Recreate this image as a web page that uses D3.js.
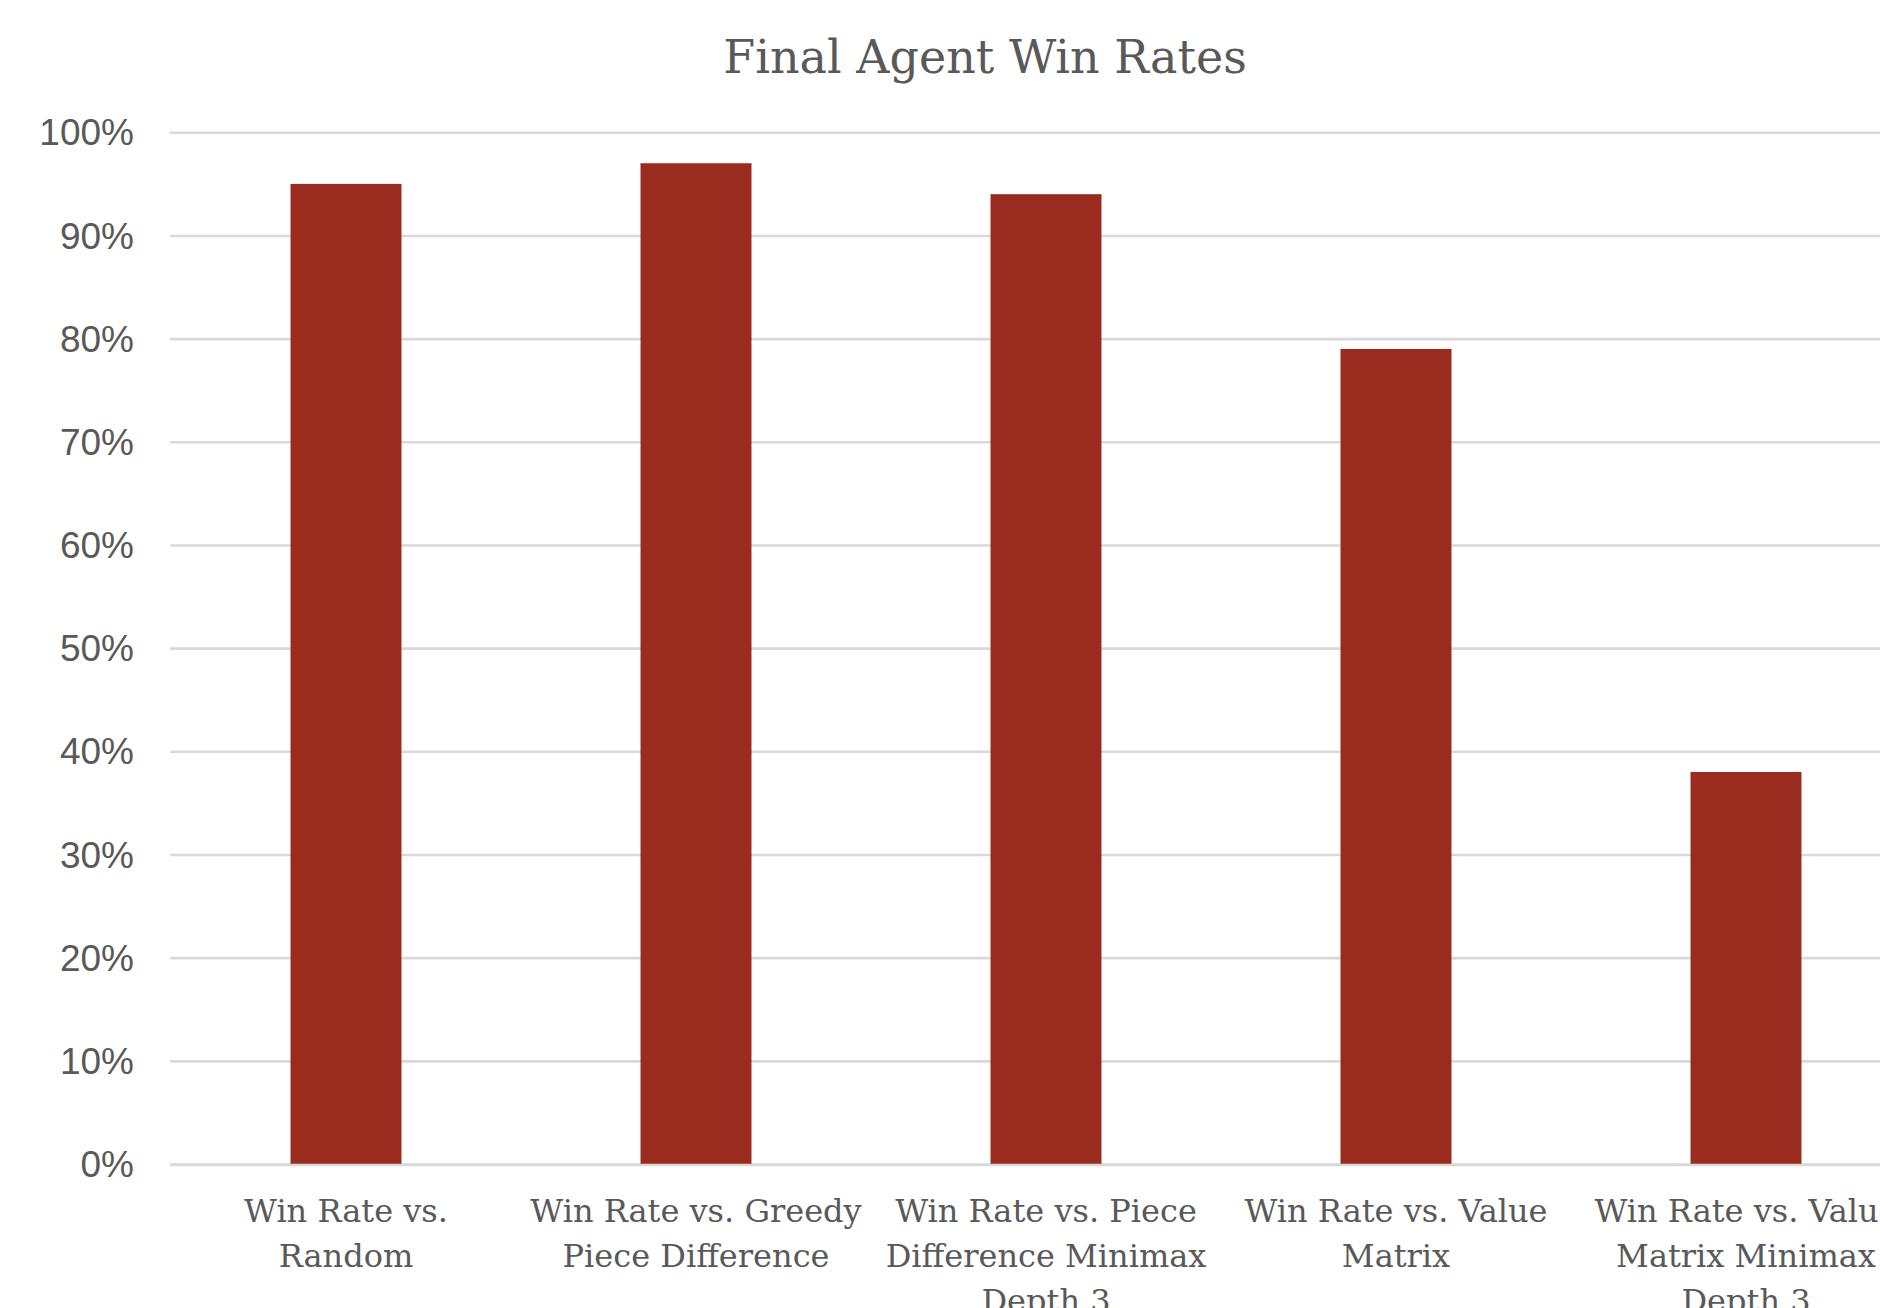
<!DOCTYPE html>
<html>
<head>
<meta charset="utf-8">
<script src="https://cdn.jsdelivr.net/npm/d3@7"></script>
<style>
  html, body { margin: 0; padding: 0; background: #ffffff; overflow: hidden; }
  svg { display: block; }
</style>
</head>
<body>
<script>
// ---- data ----
const title = "Final Agent Win Rates";
const categories = [
  "Win Rate vs.\nRandom",
  "Win Rate vs. Greedy\nPiece Difference",
  "Win Rate vs. Piece\nDifference Minimax\nDepth 3",
  "Win Rate vs. Value\nMatrix",
  "Win Rate vs. Value\nMatrix Minimax\nDepth 3"
];
const winRates = [0.95, 0.97, 0.94, 0.79, 0.38];
const yTicks = [0, 0.1, 0.2, 0.3, 0.4, 0.5, 0.6, 0.7, 0.8, 0.9, 1.0];

// ---- layout ----
const W = 1880, H = 1308;
const plotLeft = 171, plotRight = 1921, plotTop = 132.3, plotBottom = 1164;
const barColor = "#992b1f";
const textColor = "#595959";
const gridColor = "#d9d9d9";

const svg = d3.select("body").append("svg")
  .attr("width", W).attr("height", H);

const x = d3.scaleBand()
  .domain(categories)
  .range([plotLeft, plotRight])
  .paddingInner(0.683)
  .paddingOuter(0.3415);

const y = d3.scaleLinear().domain([0, 1]).range([plotBottom, plotTop]);

// title
svg.append("text")
  .attr("x", 985).attr("y", 73)
  .attr("text-anchor", "middle")
  .attr("font-family", "'DejaVu Serif', serif")
  .attr("font-size", 46)
  .attr("fill", textColor)
  .text(title);

// gridlines
const yAxis = d3.axisLeft(y)
  .tickValues(yTicks)
  .tickFormat(d3.format(".0%"))
  .tickSize(-(W - plotLeft + 1))
  .tickPadding(36);

const gy = svg.append("g")
  .attr("transform", `translate(${plotLeft - 1},0)`)
  .call(yAxis);
gy.select(".domain").remove();
gy.selectAll(".tick line")
  .attr("stroke", gridColor)
  .attr("stroke-width", 2.6);
gy.selectAll(".tick text")
  .attr("fill", textColor)
  .attr("font-family", "'Liberation Sans', Arial, sans-serif")
  .attr("font-size", 37)
  .attr("dy", "0.34em");

// bars
svg.append("g").selectAll("rect")
  .data(categories.map((c, i) => ({ c, v: winRates[i] })))
  .join("rect")
  .attr("x", d => x(d.c))
  .attr("width", x.bandwidth())
  .attr("y", d => y(d.v))
  .attr("height", d => y(0) - y(d.v))
  .attr("fill", barColor);

// baseline redrawn over bars' bottom
svg.append("line")
  .attr("x1", plotLeft - 1).attr("x2", W)
  .attr("y1", y(0) + 1).attr("y2", y(0) + 1)
  .attr("stroke", gridColor).attr("stroke-width", 2.6);

// category labels
const gx = svg.append("g");
categories.forEach(c => {
  const lines = c.split("\n");
  const t = gx.append("text")
    .attr("text-anchor", "middle")
    .attr("font-family", "'DejaVu Serif', serif")
    .attr("font-size", 32)
    .attr("fill", textColor);
  lines.forEach((ln, j) => {
    t.append("tspan")
      .attr("x", x(c) + x.bandwidth() / 2)
      .attr("y", 1222 + j * 45)
      .text(ln);
  });
});
</script>
</body>
</html>
